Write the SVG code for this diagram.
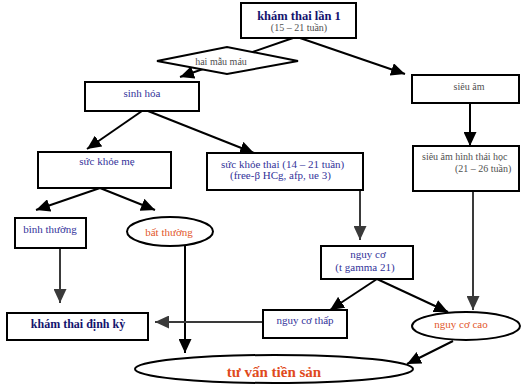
<svg xmlns="http://www.w3.org/2000/svg" width="522" height="391" viewBox="0 0 522 391">
  <defs>
    <marker id="arrow" markerUnits="userSpaceOnUse" markerWidth="15" markerHeight="13" refX="14" refY="6.5" orient="auto">
      <path d="M0,0 L14,6.5 L0,13 z" fill="#000"/>
    </marker>
    <marker id="arrow-gray" markerUnits="userSpaceOnUse" markerWidth="15" markerHeight="13" refX="14" refY="6.5" orient="auto">
      <path d="M0,0 L14,6.5 L0,13 z" fill="#3a3a3a"/>
    </marker>
    <style>
      .box { fill: #fff; stroke: #000; stroke-width: 2; }
      .edge { fill: none; stroke: #000; stroke-width: 2; marker-end: url(#arrow); }
      .edge-gray { fill: none; stroke: #3a3a3a; stroke-width: 2; marker-end: url(#arrow-gray); }
      text { font-family: "Liberation Serif", "Times New Roman", serif; }
      .blue { fill: #33339a; font-size: 11px; }
      .navy { fill: #14146e; font-weight: bold; }
      .gray { fill: #505050; font-size: 10px; }
      .orange { fill: #e2572b; font-size: 11px; }
    </style>
  </defs>

  <!-- connectors -->
  <g id="connectors">
    <line class="edge" x1="293" y1="38" x2="180" y2="77"/>
    <line class="edge" x1="300" y1="38" x2="405" y2="74"/>
    <line class="edge" x1="470" y1="103" x2="470" y2="146"/>
    <line class="edge" x1="142" y1="111" x2="87" y2="149"/>
    <line class="edge" x1="148" y1="111" x2="254" y2="153"/>
    <line class="edge-gray" x1="360" y1="191" x2="360" y2="240"/>
    <line class="edge-gray" x1="473" y1="191" x2="473" y2="310"/>
    <line class="edge" x1="100" y1="188" x2="36" y2="210"/>
    <line class="edge" x1="100" y1="188" x2="155" y2="210"/>
    <line class="edge-gray" x1="60" y1="248" x2="60" y2="303"/>
    <line class="edge" x1="185" y1="246" x2="185" y2="353"/>
    <line class="edge-gray" x1="263" y1="322" x2="155" y2="322"/>
    <line class="edge" x1="377" y1="279" x2="330" y2="310"/>
    <line class="edge" x1="377" y1="279" x2="448" y2="312"/>
    <line class="edge" x1="453" y1="341" x2="407" y2="364"/>
  </g>

  <g id="kham-thai-lan-1">
    <rect class="box" x="241" y="3" width="115" height="35"/>
    <text class="navy" x="299" y="20" font-size="12.5" text-anchor="middle">khám thai lần 1</text>
    <text class="gray" x="299" y="31" font-size="10" text-anchor="middle">(15 – 21 tuần)</text>
  </g>

  <g id="hai-mau-mau">
    <polygon class="box" points="157,61 227,47 298,61 227,74"/>
    <text class="gray" x="221" y="65" text-anchor="middle">hai mẫu máu</text>
  </g>

  <g id="sinh-hoa">
    <rect class="box" x="85" y="82" width="114" height="29"/>
    <text class="blue" x="142" y="97" text-anchor="middle">sinh hóa</text>
  </g>

  <g id="sieu-am">
    <rect class="box" x="412" y="75" width="107" height="28"/>
    <text class="gray" x="469" y="89.5" font-size="11" text-anchor="middle">siêu âm</text>
  </g>

  <g id="suc-khoe-me">
    <rect class="box" x="38" y="152" width="133" height="36"/>
    <text class="blue" x="107" y="165" font-size="12" text-anchor="middle">sức khỏe mẹ</text>
  </g>

  <g id="suc-khoe-thai">
    <rect class="box" x="207" y="153" width="156" height="37"/>
    <text class="blue" x="221" y="168" font-size="10.5">sức khỏe thai (14 – 21 tuần)</text>
    <text class="blue" x="230" y="179" font-size="9">(free-β HCg, afp, ue 3)</text>
  </g>

  <g id="sieu-am-hinh-thai-hoc">
    <rect class="box" x="413" y="146" width="106" height="45"/>
    <text class="gray" x="422" y="160" font-size="11">siêu âm hình thái học</text>
    <text class="gray" x="455" y="172">(21 – 26 tuần)</text>
  </g>

  <g id="binh-thuong">
    <rect class="box" x="15" y="218" width="71" height="30"/>
    <text class="blue" x="50" y="233" text-anchor="middle">bình thường</text>
  </g>

  <g id="bat-thuong">
    <ellipse class="box" cx="170" cy="231.5" rx="43" ry="14.5"/>
    <text class="orange" x="169" y="236" text-anchor="middle">bất thường</text>
  </g>

  <g id="nguy-co">
    <rect class="box" x="321" y="246" width="92" height="33"/>
    <text class="blue" x="368" y="258" text-anchor="middle">nguy cơ</text>
    <text class="blue" x="365" y="271" font-size="10" text-anchor="middle">(t gamma 21)</text>
  </g>

  <g id="nguy-co-thap">
    <rect class="box" x="263" y="310" width="84" height="28"/>
    <text class="blue" x="305" y="324" text-anchor="middle">nguy cơ thấp</text>
  </g>

  <g id="nguy-co-cao">
    <ellipse class="box" cx="466" cy="326" rx="54" ry="14"/>
    <text class="orange" x="461" y="328" text-anchor="middle">nguy cơ cao</text>
  </g>

  <g id="kham-thai-dinh-ky">
    <rect class="box" x="7" y="313" width="141" height="27"/>
    <text class="navy" x="78" y="328" font-size="12" text-anchor="middle">khám thai định kỳ</text>
  </g>

  <g id="tu-van-tien-san">
    <ellipse class="box" cx="274" cy="369" rx="139" ry="14"/>
    <text x="274" y="377" font-size="15" font-weight="bold" fill="#e04a1c" text-anchor="middle">tư vấn tiền sản</text>
  </g>
</svg>
